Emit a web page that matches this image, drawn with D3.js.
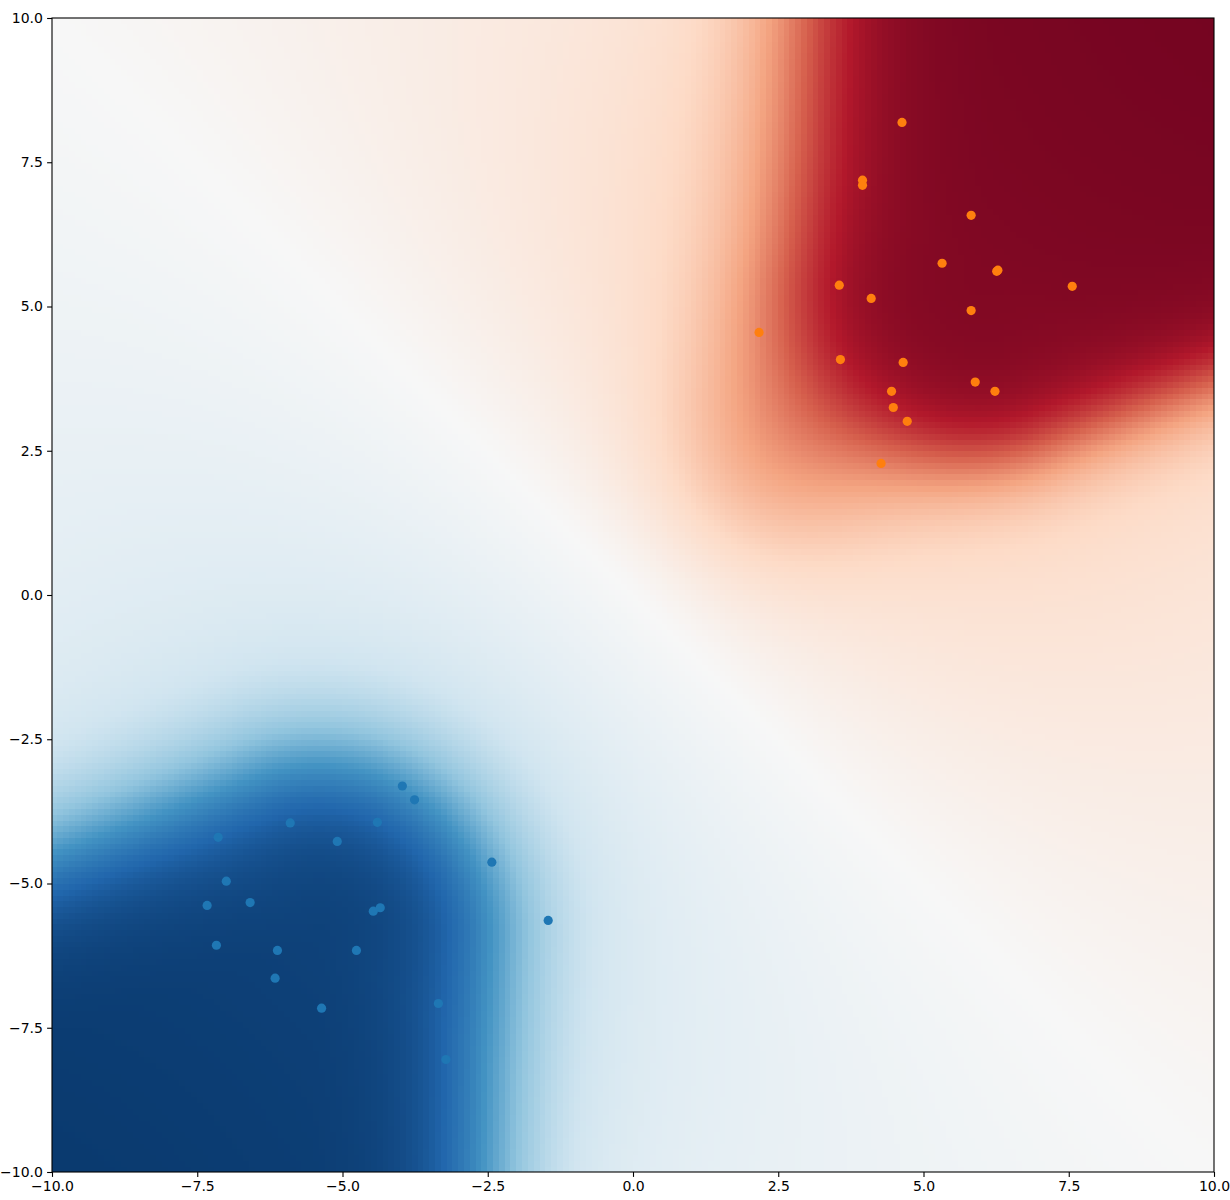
<!DOCTYPE html>
<html><head><meta charset="utf-8">
<script src="https://cdn.jsdelivr.net/npm/d3@7"></script>
<style>
body{margin:0;background:#fff}
svg{display:block}
text{font-family:"DejaVu Sans",sans-serif;font-size:14px;fill:#000}
</style>
</head><body><div id="chart"></div>
<script>
// ---- data ----
const blueX = [-3.97,-3.76,-5.90,-4.40,-5.09,-7.14,-2.43,-7.00,-7.33,-6.59,-4.47,-4.35,-1.46,-7.17,-6.12,-4.76,-6.16,-5.36,-3.35,-3.22];
const blueY = [-3.31,-3.55,-3.95,-3.94,-4.27,-4.20,-4.63,-4.96,-5.38,-5.33,-5.48,-5.42,-5.64,-6.07,-6.16,-6.16,-6.64,-7.16,-7.08,-8.05];
const orangeX = [4.63,3.95,3.95,5.82,5.32,6.26,6.28,7.56,3.55,4.10,5.82,2.17,3.57,4.65,5.89,4.45,6.23,4.48,4.72,4.27];
const orangeY = [8.19,7.19,7.10,6.58,5.75,5.61,5.63,5.35,5.37,5.14,4.93,4.55,4.08,4.03,3.69,3.53,3.53,3.25,3.01,2.28];
const xTicks = [-10,-7.5,-5,-2.5,0,2.5,5,7.5,10];
const yTicks = [-10,-7.5,-5,-2.5,0,2.5,5,7.5,10];
const domainMin = -10, domainMax = 10, gridN = 200;
// RdBu_r colormap stops (p = 0 ... 1)
const cmapColors = ["#053061","#2166ac","#4393c3","#92c5de","#d1e5f0","#f7f7f7","#fddbc7","#f4a582","#d6604d","#b2182b","#67001f"];

// ---- parameters of the classifier's probability surface (logit pieces) ----
const deg = Math.PI/180;
const redModel  = {apex:[6.03,5.57], a1:20*deg,   a2:87*deg,  R:2.75, wLow:0.50, wUp:0.73, Z:2.8, Zd:0.10};
const blueModel = {apex:[-5.4,-5.94], a1:-159*deg, a2:-92*deg, R:2.5,  wLow:0.70, wUp:0.70, Z:3.0, Zd:0.10};
const haloRed  = {H:0.6, tau:5, s:7};
const haloBlue = {H:0.5, tau:5, s:7};
const ridgeRed = {A:0.65, tau:3, sigma:1.35};

// ---- layout ----
const W = 1230, H = 1200;
const M = {left:52, right:1214, top:18, bottom:1172};

const x = d3.scaleLinear().domain([domainMin, domainMax]).range([M.left, M.right]);
const y = d3.scaleLinear().domain([domainMin, domainMax]).range([M.bottom, M.top]);
const color = d3.scaleLinear()
  .domain(d3.range(cmapColors.length).map(i => i/(cmapColors.length-1)))
  .range(cmapColors).interpolate(d3.interpolateRgb).clamp(true);

const S2 = Math.SQRT1_2;
const sig = a => 1/(1+Math.exp(-a));

function wedgeCore(px, py, m){
  const dx = px - m.apex[0], dy = py - m.apex[1];
  const phi = Math.atan2(dy, dx);
  let d;
  if (phi >= m.a1 && phi <= m.a2) d = 0;
  else {
    d = Infinity;
    for (const a of [m.a1, m.a2]){
      const ex = Math.cos(a), ey = Math.sin(a);
      const pr = dx*ex + dy*ey;
      const di = pr <= 0 ? Math.hypot(dx, dy) : Math.abs(dx*ey - dy*ex);
      if (di < d) d = di;
    }
  }
  const sp = (dy - dx)*S2;                       // side: + upper-left, - lower-right
  const w = (m.wUp + m.wLow)/2 + (m.wUp - m.wLow)/2*Math.tanh(sp/2);
  const b = (m.a1 + m.a2)/2;
  const depth = Math.max(0, dx*Math.cos(b) + dy*Math.sin(b));
  const frac = sig((m.R - d)/w);
  return {z:(m.Z + m.Zd*depth)*frac, frac};
}
function prob(px, py){
  const u = (px + py)*S2, v = (py - px)*S2;
  const hp = u >= 0 ? haloRed : haloBlue;
  const h = hp.H*Math.tanh(u/hp.tau)/(1 + (v/hp.s)**2);
  const r = wedgeCore(px, py, redModel);
  const bl = wedgeCore(px, py, blueModel);
  const ridge = u > 0 ? ridgeRed.A*(1 - Math.exp(-((u/ridgeRed.tau)**2)))*Math.exp(-v*v/(2*ridgeRed.sigma**2))*(1 - r.frac) : 0;
  return sig(r.z + ridge - bl.z + h);
}

const step = (domainMax - domainMin)/gridN;
const cells = [];
for (let j=0;j<gridN;j++) for (let i=0;i<gridN;i++){
  const x0 = domainMin + i*step, y0 = domainMin + j*step;
  cells.push({x0, y0, x1:x0+step, y1:y0+step, p:prob(x0+step/2, y0+step/2)});
}

const svg = d3.select("#chart").append("svg").attr("width",W).attr("height",H);
svg.append("clipPath").attr("id","clip").append("rect")
  .attr("x",M.left).attr("y",M.top).attr("width",M.right-M.left).attr("height",M.bottom-M.top);

const gCells = svg.append("g").attr("clip-path","url(#clip)").attr("shape-rendering","crispEdges");
gCells.selectAll("rect").data(cells).join("rect")
  .attr("x", d => Math.floor(x(d.x0)))
  .attr("y", d => Math.floor(y(d.y1)))
  .attr("width", d => Math.ceil(x(d.x1)) - Math.floor(x(d.x0)))
  .attr("height", d => Math.ceil(y(d.y0)) - Math.floor(y(d.y1)))
  .attr("fill", d => color(d.p));

const gPts = svg.append("g").attr("clip-path","url(#clip)");
gPts.selectAll("circle.b").data(d3.range(blueX.length)).join("circle").attr("class","b")
  .attr("cx", i => x(blueX[i])).attr("cy", i => y(blueY[i])).attr("r",4.6).attr("fill","#1f77b4");
gPts.selectAll("circle.o").data(d3.range(orangeX.length)).join("circle").attr("class","o")
  .attr("cx", i => x(orangeX[i])).attr("cy", i => y(orangeY[i])).attr("r",4.6).attr("fill","#ff7f0e");

const fmt = d3.format(".1f");
const xAxis = d3.axisBottom(x).tickValues(xTicks).tickFormat(fmt).tickSize(4.9).tickPadding(4.2);
const yAxis = d3.axisLeft(y).tickValues(yTicks).tickFormat(fmt).tickSize(4.9).tickPadding(4.2);
const gx = svg.append("g").attr("transform",`translate(0,${M.bottom})`).call(xAxis);
const gy = svg.append("g").attr("transform",`translate(${M.left},0)`).call(yAxis);
[gx,gy].forEach(g => {
  g.select(".domain").remove();
  g.selectAll(".tick line").attr("stroke","#000").attr("stroke-width",1.1);
  g.selectAll(".tick text").attr("font-family","DejaVu Sans").attr("font-size",14).attr("fill","#000");
});
svg.append("rect").attr("x",M.left).attr("y",M.top).attr("width",M.right-M.left).attr("height",M.bottom-M.top)
  .attr("fill","none").attr("stroke","#000").attr("stroke-width",1.1);
</script></body></html>
